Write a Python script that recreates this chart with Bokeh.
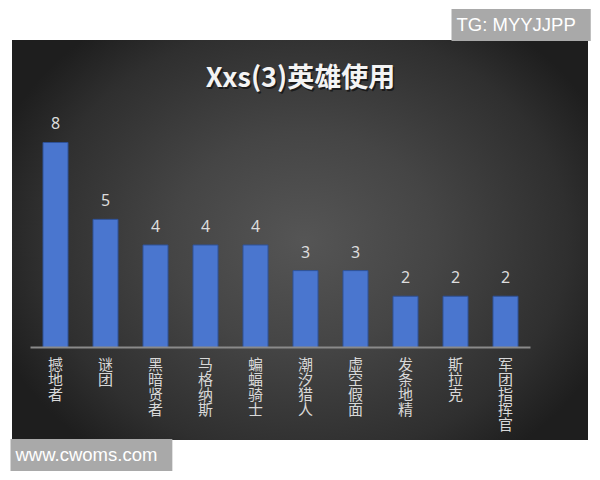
from bokeh.plotting import figure
from bokeh.models import Range1d, Label, ColumnDataSource
from bokeh.core.properties import value
from bokeh.embed import file_html
from bokeh.resources import INLINE

heroes = ["撼地者", "谜团", "黑暗贤者", "马格纳斯", "蝙蝠骑士", "潮汐猎人", "虚空假面", "发条地精", "斯拉克", "军团指挥官"]
counts = [8, 5, 4, 4, 4, 3, 3, 2, 2, 2]
title_text = "Xxs(3)英雄使用"
watermark_top = "TG: MYYJJPP"
watermark_bottom = "www.cwoms.com"

xs = list(range(len(heroes)))
src = ColumnDataSource(dict(x=xs, top=counts, lab=[str(c) for c in counts],
                            name=["\n".join(list(h)) for h in heroes],
                            zero=[0] * len(heroes)))

gradient = ("radial-gradient(ellipse 330px 270px at 292px 200px, #555555 0%, #454545 40%, "
            "#2f2f2f 80%, #1e1e1e 100%) 12px 40px / 576px 400px no-repeat, #ffffff")

p = figure(width=600, height=480, output_backend="svg", toolbar_location=None,
           x_range=Range1d(-1.1, 10.9), y_range=Range1d(-5.19, 13.54),
           min_border=0, background_fill_alpha=0, border_fill_alpha=0, outline_line_color=None,
           styles={"background": gradient})
p.grid.visible = False
p.axis.visible = False

p.vbar(x="x", top="top", width=0.5, source=src, fill_color="#4a76cf",
       line_color="#2f5299", line_width=1)
p.segment(x0=-0.5, y0=0, x1=len(heroes) - 0.5, y1=0, line_color="#8a8a8a", line_width=2)
p.text(x="x", y="top", text="lab", source=src, text_align="center", text_baseline="bottom",
       y_offset=-13, text_color="#dddddd", text_font_size="16px", text_font=value("Noto Sans"))
p.text(x="x", y="zero", text="name", source=src, text_align="center", text_baseline="top",
       y_offset=6, text_color="#d8d8d8", text_font_size="15px", text_line_height=0.71,
       text_font=value("Noto Sans CJK SC"))

shadow = Label(x=301.5, y=403.5, x_units="screen", y_units="screen", text=title_text,
               text_align="center", text_baseline="middle", text_color="#101010", text_alpha=0.75,
               text_font="Noto Sans CJK SC", text_font_style="bold", text_font_size="27px")
title = Label(x=300, y=405, x_units="screen", y_units="screen", text=title_text,
              text_align="center", text_baseline="middle", text_color="#f4f4f4",
              text_font="Noto Sans CJK SC", text_font_style="bold", text_font_size="27px")
p.add_layout(shadow)
p.add_layout(title)

wm_top = Label(x=451, y=455.5, x_units="screen", y_units="screen", text=watermark_top,
               text_align="left", text_baseline="middle", text_color="#ffffff",
               text_font="Liberation Sans", text_font_size="18.5px",
               background_fill_color="#a9a9a9",
               padding=dict(left=5, right=15, top=5, bottom=6))
wm_bot = Label(x=10, y=25.5, x_units="screen", y_units="screen", text=watermark_bottom,
               text_align="left", text_baseline="middle", text_color="#ffffff",
               text_font="Liberation Sans", text_font_size="18.5px",
               background_fill_color="#a9a9a9",
               padding=dict(left=5, right=15, top=5, bottom=6))
p.add_layout(wm_top)
p.add_layout(wm_bot)

open("out.html", "w").write(file_html(p, INLINE))
